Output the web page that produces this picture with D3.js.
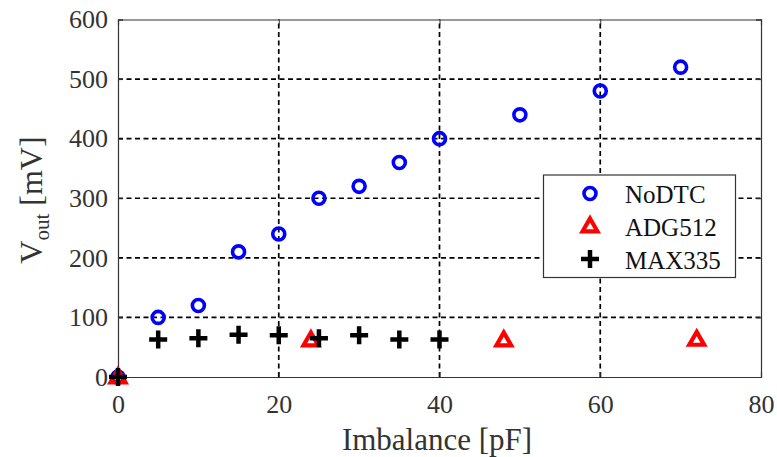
<!DOCTYPE html>
<html>
<head>
<meta charset="utf-8">
<script src="https://cdn.jsdelivr.net/npm/d3@7"></script>
<style>
  body { margin: 0; background: #fff; }
  svg text { font-family: "Liberation Serif", "Times New Roman", serif; }
</style>
</head>
<body>
<script>
// data
const noDtcX = [0, 5, 10, 15, 20, 25, 30, 35, 40, 50, 60, 70];
const noDtcY = [0, 100, 120, 210, 240, 300, 320, 360, 400, 440, 480, 520];
const adgX = [0, 24, 48, 72];
const adgY = [0, 62, 62, 63];
const maxX = [0, 5, 10, 15, 20, 25, 30, 35, 40];
const maxY = [0, 63, 65, 71, 70, 65, 70, 63, 63];
const xTicks = [0, 20, 40, 60, 80];
const yTicks = [0, 100, 200, 300, 400, 500, 600];
const seriesNames = ["NoDTC", "ADG512", "MAX335"];

const width = 777, height = 457;
const margin = {top: 19.5, right: 16, bottom: 80, left: 118};

const svg = d3.select('body').append('svg')
  .attr('width', width)
  .attr('height', height);

const x = d3.scaleLinear().domain([0, 80]).range([margin.left, width - margin.right]);
const y = d3.scaleLinear().domain([0, 600]).range([height - margin.bottom, margin.top]);

// dashed grid
const grid = svg.append('g');
grid.selectAll('.vg').data(xTicks.slice(1, -1)).enter().append('line')
  .attr('x1', d => x(d)).attr('x2', d => x(d))
  .attr('y1', y(0)).attr('y2', y(600))
  .attr('stroke', '#000').attr('stroke-width', 1.7).attr('stroke-dasharray', '5,3.5');
grid.selectAll('.hg').data(yTicks.slice(1, -1)).enter().append('line')
  .attr('x1', x(0)).attr('x2', x(80))
  .attr('y1', d => y(d)).attr('y2', d => y(d))
  .attr('stroke', '#000').attr('stroke-width', 1.7).attr('stroke-dasharray', '5,3.5');

// axes
const xAxis = svg.append('g')
  .attr('transform', `translate(0,${y(0)})`)
  .call(d3.axisBottom(x).tickValues(xTicks).tickSize(-5).tickPadding(12));
const yAxis = svg.append('g')
  .attr('transform', `translate(${x(0)},0)`)
  .call(d3.axisLeft(y).tickValues(yTicks).tickSize(-5).tickPadding(10));
svg.append('g')
  .attr('transform', `translate(0,${y(600)})`)
  .call(d3.axisTop(x).tickValues(xTicks).tickSize(-5).tickFormat(''));
svg.append('g')
  .attr('transform', `translate(${x(80)},0)`)
  .call(d3.axisRight(y).tickValues(yTicks).tickSize(-5).tickFormat(''));

svg.selectAll('g').attr('font-family', null);
svg.selectAll('.domain').attr('stroke', '#333').attr('stroke-width', 1.2);
svg.selectAll('.tick line').attr('stroke', '#333');
svg.selectAll('.tick text')
  .attr('fill', '#333')
  .style('font-size', '26px');
xAxis.selectAll('.tick text').attr('dy', '0.92em');

// axis titles
svg.append('text')
  .attr('x', 437).attr('y', 450)
  .attr('text-anchor', 'middle')
  .attr('fill', '#333')
  .style('font-size', '31px')
  .text('Imbalance [pF]');

const yl = svg.append('text')
  .attr('transform', 'translate(42,200) rotate(-90)')
  .attr('text-anchor', 'middle')
  .attr('fill', '#333')
  .style('font-size', '32px');
yl.append('tspan').text('V');
yl.append('tspan').attr('dy', 7).style('font-size', '21px').text('out');
yl.append('tspan').attr('dy', -7).text(' [mV]');

// markers
const tri = d3.symbol().type(d3.symbolTriangle).size(95);
const plus = 'M-9,0H9M0,-9V9';

function drawCircle(g, cx, cy) {
  g.append('circle').attr('cx', cx).attr('cy', cy).attr('r', 6)
    .attr('fill', 'none').attr('stroke', '#0000ff').attr('stroke-width', 3.6);
}
function drawTri(g, cx, cy) {
  g.append('path').attr('d', tri).attr('transform', `translate(${cx},${cy + 1})`)
    .attr('fill', 'none').attr('stroke', '#ff0000').attr('stroke-width', 4.2)
    .attr('stroke-linejoin', 'miter');
}
function drawPlus(g, cx, cy) {
  g.append('path').attr('d', plus).attr('transform', `translate(${cx},${cy})`)
    .attr('fill', 'none').attr('stroke', '#000').attr('stroke-width', 4.5);
}

const marks = svg.append('g');
noDtcX.forEach((d, i) => drawCircle(marks, x(d), y(noDtcY[i])));
adgX.forEach((d, i) => drawTri(marks, x(d), y(adgY[i])));
maxX.forEach((d, i) => drawPlus(marks, x(d), y(maxY[i])));

// legend
const lg = svg.append('g');
lg.append('rect')
  .attr('x', 543.5).attr('y', 175).attr('width', 192).attr('height', 102.5)
  .attr('fill', '#fff').attr('stroke', '#333').attr('stroke-width', 1.2);
const rows = [193.5, 226, 259];
const drawers = [drawCircle, drawTri, drawPlus];
seriesNames.forEach((name, i) => {
  drawers[i](lg, 590, rows[i]);
  lg.append('text')
    .attr('x', 625).attr('y', rows[i] + 9.5)
    .attr('fill', '#111')
    .style('font-size', '25px')
    .text(name);
});
</script>
</body>
</html>
